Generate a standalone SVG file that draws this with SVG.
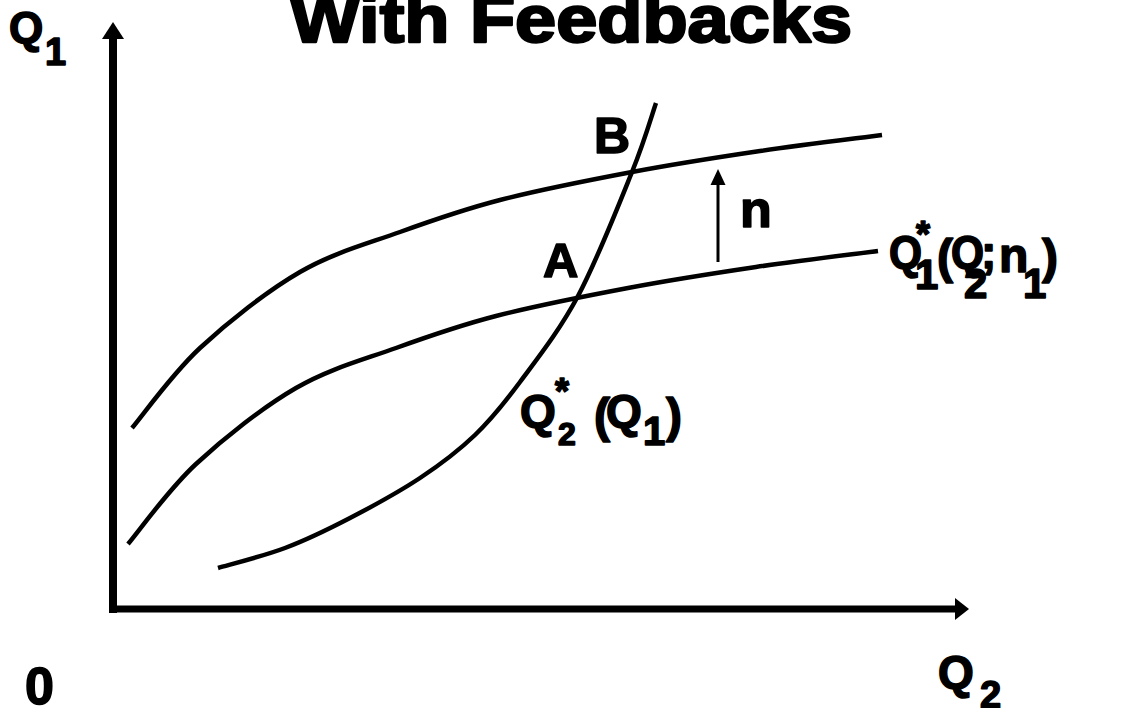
<svg xmlns="http://www.w3.org/2000/svg" width="1125" height="708" viewBox="0 0 1125 708">
<style>
.t{font-family:"Liberation Sans",Arial,Helvetica,sans-serif;font-weight:bold;fill:#000;stroke:#000;stroke-width:1.6;stroke-linejoin:round}
.c{fill:none;stroke:#000;stroke-width:4.5;stroke-linecap:butt}
</style>
<rect width="1125" height="708" fill="#fff"/>
<g id="title"><text class="t" x="290" y="42" font-size="66" textLength="562" lengthAdjust="spacingAndGlyphs" style="stroke-width:2.4">With Feedbacks</text></g>
<g id="axes">
<line x1="113" y1="613" x2="113" y2="36" stroke="#000" stroke-width="8"/>
<polygon points="113,22 102,39 124,39" fill="#000"/>
<line x1="109" y1="609" x2="956" y2="609" stroke="#000" stroke-width="7"/>
<polygon points="969,609 955,598 955,620" fill="#000"/>
</g>
<g id="axis-labels">
<text class="t" x="9" y="43" font-size="44">Q</text>
<text class="t" x="45" y="65" font-size="38">1</text>
<text class="t" x="25" y="704" font-size="52">0</text>
<text class="t" x="938" y="688" font-size="46">Q</text>
<text class="t" x="980" y="708" font-size="38">2</text>
</g>
<g id="connectors">
<path id="curve-upper" class="c" d="M132,428 C143.3,414.7 172,374 200,348 C228,322 266.7,291.3 300,272 C333.3,252.7 366.7,244 400,232 C433.3,220 461.3,210 500,200 C538.7,190 588.7,180.2 632,172 C675.3,163.8 718.3,157.2 760,151 C801.7,144.8 861.7,137.7 882,135"/>
<path id="curve-lower" class="c" transform="translate(-4,116)" d="M132,428 C143.3,414.7 172,374 200,348 C228,322 266.7,291.3 300,272 C333.3,252.7 366.7,244 400,232 C433.3,220 461.3,210 500,200 C538.7,190 588.7,180.2 632,172 C675.3,163.8 718.3,157.2 760,151 C801.7,144.8 861.7,137.7 882,135"/>
<path id="curve-q2" class="c" d="M218,568 C229.2,564.7 263,556.3 285,548 C307,539.7 327.5,529.7 350,518 C372.5,506.3 399.2,491.8 420,478 C440.8,464.2 458.3,451 475,435 C491.7,419 502.8,405.2 520,382 C537.2,358.8 559.3,331 578,296 C596.7,261 619,204.2 632,172 C645,139.8 652,114.5 656,103"/>
<line x1="718" y1="262" x2="718" y2="182" stroke="#000" stroke-width="3"/>
<polygon points="718,169 710.5,185 725.5,185" fill="#000"/>
</g>
<g id="point-A"><text class="t" x="543" y="277" font-size="49">A</text></g>
<g id="point-B"><text class="t" x="594" y="153" font-size="50">B</text></g>
<g id="label-n"><text class="t" x="740" y="227" font-size="52">n</text></g>
<g id="label-q1star">
<text class="t" x="889" y="268" font-size="46" textLength="33" lengthAdjust="spacingAndGlyphs">Q</text>
<text class="t" x="916" y="247" font-size="36">*</text>
<text class="t" x="915" y="289" font-size="42">1</text>
<text class="t" x="937" y="273" font-size="48">(</text>
<text class="t" x="951" y="268" font-size="46" textLength="33" lengthAdjust="spacingAndGlyphs">Q</text>
<text class="t" x="964" y="298" font-size="42">2</text>
<text class="t" x="981" y="268" font-size="46">;</text>
<text class="t" x="999" y="272" font-size="48">n</text>
<text class="t" x="1023" y="298" font-size="42">1</text>
<text class="t" x="1042" y="273" font-size="48">)</text>
</g>
<g id="label-q2star">
<text class="t" x="520" y="427" font-size="46">Q</text>
<text class="t" x="555" y="404" font-size="36">*</text>
<text class="t" x="558" y="445" font-size="32">2</text>
<text class="t" x="594" y="432" font-size="48">(</text>
<text class="t" x="606" y="427" font-size="46">Q</text>
<text class="t" x="643" y="445" font-size="40">1</text>
<text class="t" x="666" y="432" font-size="48">)</text>
</g>
</svg>
